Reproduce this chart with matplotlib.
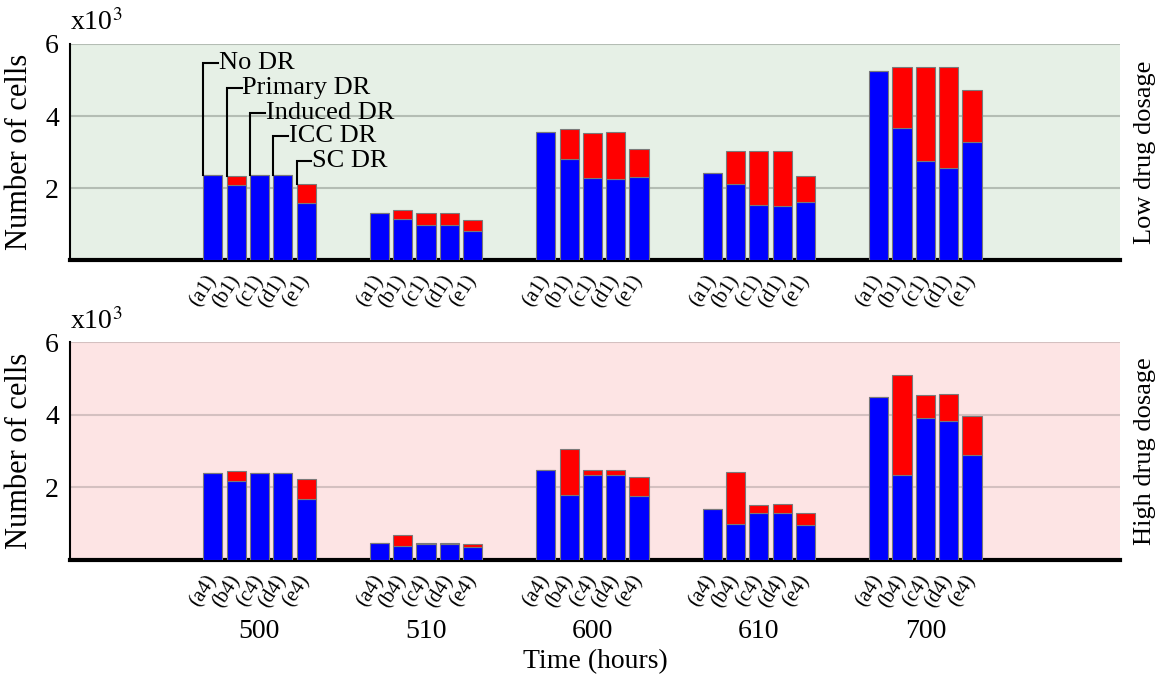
import numpy as np
import matplotlib
matplotlib.use('Agg')
import matplotlib.pyplot as plt
import matplotlib.transforms as mtransforms

plt.rcParams['font.family'] = ['Liberation Serif', 'DejaVu Serif']
plt.rcParams['mathtext.fontset'] = 'stix'

# time points (hours)
times = ['500', '510', '600', '610', '700']
scenarios = ['No DR', 'Primary DR', 'Induced DR', 'ICC DR', 'SC DR']

# low dosage, values in thousands of cells: blue part and total height
low_blue = [
    [2.35, 2.08, 2.35, 2.35, 1.58],
    [1.30, 1.15, 0.97, 0.97, 0.80],
    [3.55, 2.82, 2.28, 2.26, 2.31],
    [2.42, 2.10, 1.54, 1.50, 1.62],
    [5.24, 3.67, 2.76, 2.57, 3.27],
]
low_total = [
    [2.35, 2.34, 2.35, 2.35, 2.10],
    [1.30, 1.40, 1.30, 1.30, 1.10],
    [3.55, 3.64, 3.53, 3.55, 3.09],
    [2.42, 3.03, 3.03, 3.04, 2.33],
    [5.24, 5.36, 5.35, 5.35, 4.72],
]

# high dosage
high_blue = [
    [2.40, 2.17, 2.40, 2.39, 1.68],
    [0.47, 0.39, 0.43, 0.43, 0.35],
    [2.49, 1.80, 2.33, 2.33, 1.75],
    [1.39, 0.99, 1.28, 1.28, 0.97],
    [4.49, 2.34, 3.91, 3.82, 2.88],
]
high_total = [
    [2.40, 2.44, 2.40, 2.39, 2.22],
    [0.47, 0.69, 0.47, 0.47, 0.45],
    [2.49, 3.05, 2.47, 2.49, 2.29],
    [1.39, 2.41, 1.52, 1.54, 1.30],
    [4.49, 5.10, 4.55, 4.57, 3.98],
]

low_ticks = ['(a1)', '(b1)', '(c1)', '(d1)', '(e1)']
high_ticks = ['(a4)', '(b4)', '(c4)', '(d4)', '(e4)']

step = 0.14
width = 0.115
offsets = (np.arange(5) - 2) * step

fig = plt.figure(figsize=(11.69, 6.79), dpi=100)
ax1 = fig.add_axes([0.0599, 0.6170, 0.898, 0.3182])
ax2 = fig.add_axes([0.0599, 0.1755, 0.898, 0.3204])


def draw_panel(ax, blue, total, ticks, bg, gridc, side_label):
    blue = np.array(blue)
    total = np.array(total)
    ax.set_facecolor(bg)
    xs = []
    for g in range(len(times)):
        x = g + offsets
        ax.bar(x, blue[g], width, color='#0000ff', edgecolor='#7a7a7a', linewidth=0.8, zorder=3)
        red = total[g] - blue[g]
        ax.bar(x, red, width, bottom=blue[g], color='#ff0000', edgecolor='#7a7a7a',
               linewidth=0.8, zorder=3)
        xs.extend(x)
    ax.set_xlim(-1.138, 5.168)
    ax.set_ylim(0, 6)
    ax.set_yticks([2, 4, 6])
    ax.set_yticklabels(['2', '4', '6'])
    ax.yaxis.grid(True, color=gridc, linewidth=1.5, zorder=0)
    ax.set_axisbelow(True)
    ax.tick_params(axis='y', length=0, pad=8, labelsize=20)
    ax.set_xticks(xs)
    ax.set_xticklabels(ticks * len(times), rotation=57, ha='right', va='center',
                       rotation_mode='anchor', fontsize=15)
    ax.tick_params(axis='x', length=0, pad=12)
    for s in ['top', 'right']:
        ax.spines[s].set_visible(False)
    ax.spines['bottom'].set_linewidth(3)
    ax.spines['left'].set_linewidth(1.5)
    ax.set_ylabel('Number of cells', fontsize=22, labelpad=8)
    ax.text(0.0, 1.035, r'x10$^3$', transform=ax.transAxes, fontsize=20, ha='left', va='bottom')
    ax.text(1.024, 0.5, side_label, transform=ax.transAxes, rotation=90, fontsize=19,
            ha='center', va='center')


draw_panel(ax1, low_blue, low_total, low_ticks, '#e6f0e6', '#b4bdb4', 'Low drug dosage')
draw_panel(ax2, high_blue, high_total, high_ticks, '#fde4e4', '#d4c0c0', 'High drug dosage')

# scenario callouts on the first group of the low dosage panel
label_y = [5.46, 4.79, 4.08, 3.44, 2.76]
for i, name in enumerate(scenarios):
    x0 = offsets[i] - width / 2
    y0 = low_total[0][i]
    ax1.plot([x0, x0, x0 + 0.09], [y0, label_y[i], label_y[i]], color='black',
             linewidth=1.5, zorder=4, solid_joinstyle='miter')
    ax1.text(x0 + 0.095, label_y[i], name, fontsize=19, ha='left', va='center', zorder=5)

# time labels under the bottom panel
trans = mtransforms.blended_transform_factory(ax2.transData, ax2.transAxes)
for g, t in enumerate(times):
    ax2.text(g, -0.33, t, transform=trans, fontsize=20, ha='center', va='center')
ax2.text(0.5, -0.47, 'Time (hours)', transform=ax2.transAxes, fontsize=20,
         ha='center', va='center')

fig.savefig('out.png', dpi=100)
